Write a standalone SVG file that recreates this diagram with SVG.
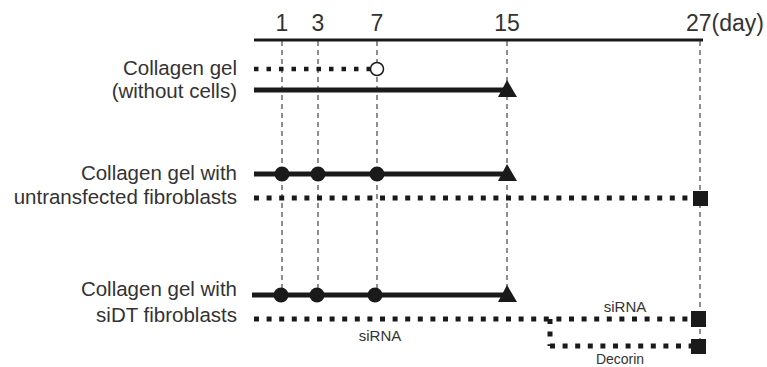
<svg xmlns="http://www.w3.org/2000/svg" width="767" height="367" viewBox="0 0 767 367">
<style>
text{font-family:"Liberation Sans",Arial,sans-serif;fill:#333}
.lbl{font-size:20.5px;text-anchor:end}
.day{font-size:23px;text-anchor:middle}
.sm{font-size:15px;text-anchor:middle}
.guide{stroke:#444;stroke-width:1.2;stroke-dasharray:5 4;fill:none}
.solid{stroke:#1a1a1a;stroke-width:5;fill:none}
.dot{stroke:#1a1a1a;stroke-width:5;stroke-dasharray:5 7.6;fill:none}
.fill{fill:#1a1a1a}
</style>
<rect width="767" height="367" fill="#fff"/>
<g id="axis">
<line x1="254" y1="40" x2="703" y2="40" stroke="#1a1a1a" stroke-width="3"/>
<text class="day" x="282" y="31">1</text>
<text class="day" x="318" y="31">3</text>
<text class="day" x="377" y="31">7</text>
<text class="day" x="507" y="31">15</text>
<text x="686" y="31" style="font-size:23px">27(day)</text>
</g>
<g id="connectors">
<line class="guide" x1="282" y1="41" x2="282" y2="296"/>
<line class="guide" x1="318" y1="41" x2="318" y2="296"/>
<line class="guide" x1="377" y1="41" x2="377" y2="296"/>
<line class="guide" x1="507" y1="41" x2="507" y2="296"/>
<line class="guide" x1="700" y1="41" x2="700" y2="346"/>
</g>
<g id="row-without-cells">
<text class="lbl" x="237" y="75">Collagen gel</text>
<text class="lbl" x="237" y="98">(without cells)</text>
<line x1="254" y1="69" x2="370" y2="69" stroke="#1a1a1a" stroke-width="4.5" stroke-dasharray="4.5 8" />
<circle cx="377" cy="69" r="6.5" fill="#fff" stroke="#1a1a1a" stroke-width="1.5"/>
<line class="solid" x1="254" y1="90" x2="507" y2="90"/>
<polygon class="fill" points="498,97 507,80 517,97"/>
</g>
<g id="row-untransfected">
<text class="lbl" x="237" y="180">Collagen gel with</text>
<text class="lbl" x="237" y="204">untransfected fibroblasts</text>
<line class="solid" x1="254" y1="174" x2="507" y2="174"/>
<circle class="fill" cx="282" cy="174" r="7.5"/>
<circle class="fill" cx="318" cy="174" r="7.5"/>
<circle class="fill" cx="377" cy="174" r="7.5"/>
<polygon class="fill" points="498,181 507,164 517,181"/>
<line class="dot" x1="254" y1="198" x2="694" y2="198"/>
<rect class="fill" x="693" y="191" width="15" height="15"/>
</g>
<g id="row-siDT">
<text class="lbl" x="237" y="296">Collagen gel with</text>
<text class="lbl" x="237" y="322">siDT fibroblasts</text>
<line class="solid" x1="252" y1="295" x2="507" y2="295"/>
<circle class="fill" cx="281" cy="295" r="7.5"/>
<circle class="fill" cx="317" cy="295" r="7.5"/>
<circle class="fill" cx="375" cy="295" r="7.5"/>
<polygon class="fill" points="498,302 507,285 517,302"/>
<line class="dot" x1="254" y1="319" x2="692" y2="319"/>
<rect class="fill" x="691" y="311" width="15" height="16"/>
<line class="dot" x1="550" y1="319" x2="550" y2="346"/>
<line class="dot" x1="550" y1="346" x2="692" y2="346"/>
<rect class="fill" x="691" y="339" width="15" height="15"/>
<text class="sm" x="625" y="312">siRNA</text>
<text class="sm" x="380" y="341">siRNA</text>
<text class="sm" x="620" y="364" style="font-size:14px">Decorin</text>
</g>
</svg>
